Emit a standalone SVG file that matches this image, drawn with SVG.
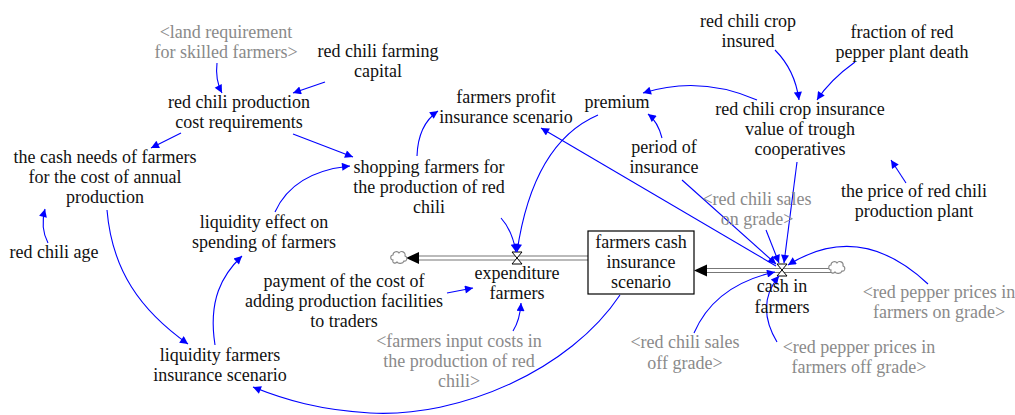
<svg xmlns="http://www.w3.org/2000/svg" width="1015" height="415" viewBox="0 0 1015 415">
<style>
text{font-family:"Liberation Serif","Times New Roman",serif;font-size:18px;fill:#111;text-anchor:middle}
.g text,text.g{fill:#8a8a8a}
.c path{fill:none;stroke:#0000ff;stroke-width:1.1;marker-end:url(#a)}
.pipe{stroke:#777;stroke-width:1.2;fill:none}
.cloud{fill:#fff;stroke:#888;stroke-width:1.1}
</style>
<defs>
<marker id="a" viewBox="0 0 10 10" refX="10" refY="5" markerWidth="11" markerHeight="8" markerUnits="userSpaceOnUse" orient="auto"><path d="M0,0 L10,5 L0,10 z" fill="#0000ff"/></marker>
<path id="cl" d="M-6,3 C-9,3 -9,-2 -6,-2 C-6,-6 -1,-6 0,-4 C2,-7 7,-5 6,-1 C9,0 8,5 5,4 C4,7 -1,7 -2,5 C-4,7 -7,6 -6,3 Z"/>
</defs>
<rect width="1015" height="415" fill="#fff"/>

<g id="flows">
<line class="pipe" x1="588" y1="256" x2="416" y2="256"/>
<line class="pipe" x1="588" y1="260" x2="416" y2="260"/>
<path d="M406,258 L419,252 L419,264 Z" fill="#000"/>
<use href="#cl" x="399" y="257" class="cloud"/>
<line class="pipe" x1="832" y1="268.5" x2="704" y2="268.5"/>
<line class="pipe" x1="832" y1="272.5" x2="704" y2="272.5"/>
<path d="M694,270.5 L707,264.5 L707,276.5 Z" fill="#000"/>
<use href="#cl" x="837" y="267" class="cloud"/>
<path d="M512,252 L522,252 L512,264 L522,264 Z" fill="#fff" stroke="#000" stroke-width="1"/>
<path d="M777,264 L787,264 L777,276 L787,276 Z" fill="#fff" stroke="#000" stroke-width="1"/>
</g>

<g id="stock">
<rect x="588" y="231" width="106" height="63" fill="#fff" stroke="#000" stroke-width="1.2"/>
<text x="641" y="248">farmers cash</text>
<text x="641" y="268">insurance</text>
<text x="641" y="288">scenario</text>
</g>

<g class="c" id="connectors">
<path d="M217,63 Q215,80 222,93"/>
<path d="M325,82 L293,93"/>
<path d="M181,133 L151,148"/>
<path d="M293,134 L353,157"/>
<path d="M275,212 Q293,172 350,166"/>
<path d="M417,156 Q418,125 438,111"/>
<path d="M598,115 Q533,143 517,252"/>
<path d="M501,218 Q512,230 516,252"/>
<path d="M757,100 Q700,75 643,93"/>
<path d="M662,138 Q658,122 648,114"/>
<path d="M776,266 L541,128"/>
<path d="M682,180 L776,264"/>
<path d="M797,162 L784,263"/>
<path d="M766,230 L779,263"/>
<path d="M928,284 Q860,220 788,265"/>
<path d="M694,333 Q715,285 775,272"/>
<path d="M777,342 Q755,305 779,276"/>
<path d="M620,295 C570,370 460,418 370,413 C320,410 285,400 253,387"/>
<path d="M107,210 C112,270 140,310 188,344"/>
<path d="M215,345 C208,300 222,275 242,256"/>
<path d="M48,243 Q40,228 45,209"/>
<path d="M447,293 L473,288"/>
<path d="M513,331 Q520,320 521,303"/>
<path d="M775,50 Q795,70 799,100"/>
<path d="M855,62 Q830,80 817,100"/>
<path d="M906,183 L891,160"/>
</g>

<g id="land" class="g"><text x="226" y="38">&lt;land requirement</text><text x="226" y="58">for skilled farmers&gt;</text></g>
<g id="capital"><text x="378" y="57">red chili farming</text><text x="378" y="77">capital</text></g>
<g id="prodcost"><text x="239" y="108">red chili production</text><text x="239" y="128">cost requirements</text></g>
<g id="profit"><text x="506" y="103">farmers profit</text><text x="506" y="123">insurance scenario</text></g>
<g id="premium"><text x="617" y="108">premium</text></g>
<g id="insured"><text x="748" y="27">red chili crop</text><text x="748" y="47">insured</text></g>
<g id="fraction"><text x="902" y="38">fraction of red</text><text x="902" y="58">pepper plant death</text></g>
<g id="insvalue"><text x="800" y="115">red chili crop insurance</text><text x="800" y="135">value of trough</text><text x="800" y="155">cooperatives</text></g>
<g id="cashneeds"><text x="105" y="163">the cash needs of farmers</text><text x="105" y="183">for the cost of annual</text><text x="105" y="203">production</text></g>
<g id="age"><text x="54" y="258">red chili age</text></g>
<g id="liqeffect"><text x="264" y="228">liquidity effect on</text><text x="264" y="248">spending of farmers</text></g>
<g id="shopping"><text x="429" y="173">shopping farmers for</text><text x="429" y="193">the production of red</text><text x="429" y="213">chili</text></g>
<g id="period"><text x="664" y="153">period of</text><text x="664" y="173">insurance</text></g>
<g id="salesOn" class="g"><text x="757" y="205">&lt;red chili sales</text><text x="757" y="225">on grade&gt;</text></g>
<g id="price"><text x="914" y="197">the price of red chili</text><text x="914" y="217">production plant</text></g>
<g id="payment"><text x="344" y="287">payment of the cost of</text><text x="344" y="307">adding production facilities</text><text x="344" y="327">to traders</text></g>
<g id="expenditure"><text x="517" y="279">expenditure</text><text x="517" y="299">farmers</text></g>
<g id="inputcosts" class="g"><text x="459" y="347">&lt;farmers input costs in</text><text x="459" y="367">the production of red</text><text x="459" y="387">chili&gt;</text></g>
<g id="liqfarmers"><text x="220" y="361">liquidity farmers</text><text x="220" y="381">insurance scenario</text></g>
<g id="cashin"><text x="782" y="292">cash in</text><text x="782" y="313">farmers</text></g>
<g id="salesOff" class="g"><text x="685" y="348">&lt;red chili sales</text><text x="685" y="369">off grade&gt;</text></g>
<g id="pricesOff" class="g"><text x="859" y="353">&lt;red pepper prices in</text><text x="859" y="373">farmers off grade&gt;</text></g>
<g id="pricesOn" class="g"><text x="939" y="298">&lt;red pepper prices in</text><text x="939" y="318">farmers on grade&gt;</text></g>
</svg>
